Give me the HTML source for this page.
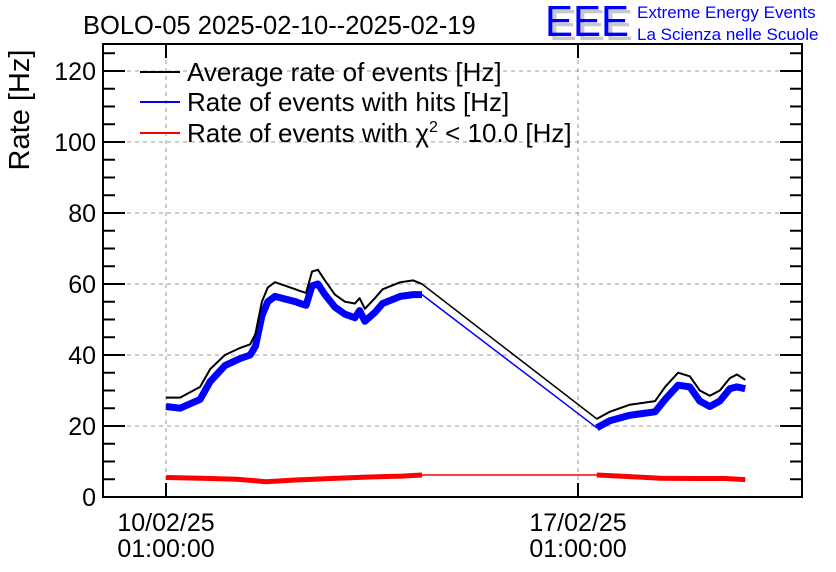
<!DOCTYPE html>
<html><head><meta charset="utf-8"><style>
body{margin:0;background:#fff}
svg{display:block;font-family:"Liberation Sans",sans-serif}
</style></head><body>
<svg id="chart" width="836" height="572" viewBox="0 0 836 572">
<text x="83" y="34" font-size="25.5">BOLO-05 2025-02-10--2025-02-19</text>
<g>
<text x="549" y="40" font-size="44" fill="#c8c8c8" textLength="84" lengthAdjust="spacingAndGlyphs">EEE</text>
<text x="545" y="36" font-size="44" fill="#0000ff" textLength="84" lengthAdjust="spacingAndGlyphs">EEE</text>
<text x="637" y="18" font-size="17" fill="#0000ff">Extreme Energy Events</text>
<text x="637" y="40" font-size="17" fill="#0000ff">La Scienza nelle Scuole</text>
</g>
<g id="grid"></g>
<g id="series"></g>
<rect x="103" y="44" width="699" height="453" fill="none" stroke="#000" stroke-width="2"/>
<g id="axes"></g>
<text transform="translate(29,110) rotate(-90)" font-size="29" text-anchor="middle">Rate [Hz]</text>
<g>
<line x1="140" y1="72" x2="180" y2="72" stroke="#000" stroke-width="2"/>
<text x="187" y="81" font-size="26">Average rate of events [Hz]</text>
<line x1="140" y1="102" x2="180" y2="102" stroke="#0000ff" stroke-width="2"/>
<text x="187" y="111" font-size="26">Rate of events with hits [Hz]</text>
<line x1="140" y1="133" x2="180" y2="133" stroke="#ff0000" stroke-width="2"/>
<text x="187" y="142" font-size="26">Rate of events with χ<tspan font-size="16" dy="-10">2</tspan><tspan dy="10"> &lt; 10.0 [Hz]</tspan></text>
</g>
</svg>
<script>
const yTicks=[0,20,40,60,80,100,120];
const xTickDays=[0,7];
const xTickLabels=[["10/02/25","01:00:00"],["17/02/25","01:00:00"]];
const avgDays=[0,0.24,0.58,0.75,1.0,1.26,1.43,1.52,1.63,1.73,1.85,2.2,2.28,2.38,2.48,2.58,2.7,2.87,3.04,3.21,3.29,3.38,3.55,3.68,3.98,4.2,4.35,7.32,7.54,7.88,8.31,8.48,8.7,8.9,9.07,9.24,9.41,9.58,9.7,9.84];
const avgVals=[28,28,31,36,40,42,43,46,55,59,60.5,58.5,58,57.5,63.5,64,61,57,55,54.5,56,53,56,58.5,60.5,61,60,22,24,26,27,31,35,34,30,28.5,30,33.5,34.5,33];
const hitDays=avgDays;
const hitVals=[25.5,25,27.5,32.5,37,39,40,42.5,51,55,56.5,55,54.5,54,59.5,60,57,53.5,51.5,50.5,52.5,49.5,52,54.5,56.5,57,57,19.5,21.5,23,24,27.5,31.5,31,27,25.5,27,30.5,31,30.5];
const chiDays=[0,0.6,1.2,1.7,2.2,2.8,3.4,4.0,4.35,7.32,7.8,8.4,9.0,9.5,9.84];
const chiVals=[5.5,5.3,5.0,4.3,4.8,5.2,5.6,5.9,6.2,6.2,5.8,5.3,5.2,5.2,4.9];
const NS='http://www.w3.org/2000/svg';
const L=103,R=802,T=44,B=497,YMAX=127.6;
const yS=v=>B-(v/YMAX)*(B-T);
const xS=d=>166+d*58.857;
function mk(tag,attrs,parent){const e=document.createElementNS(NS,tag);for(const k in attrs)e.setAttribute(k,attrs[k]);parent.appendChild(e);return e;}
const grid=document.getElementById('grid'),axes=document.getElementById('axes'),ser=document.getElementById('series');
yTicks.forEach(v=>{
 if(v>0){const g=mk('line',{x1:L,x2:R,y1:yS(v),y2:yS(v),stroke:'#999','stroke-dasharray':'4,4','stroke-width':1},grid);
 
 }
 const t=mk('text',{x:96,y:yS(v)+9,'font-size':25,'text-anchor':'end'},axes);t.textContent=v;
 
 
});
for(let v=0;v<=125;v+=5){const maj=v%20===0;const len=maj?22:12;
 mk('line',{x1:L,x2:L+len,y1:yS(v),y2:yS(v),stroke:'#000','stroke-width':2},axes);
 mk('line',{x1:R,x2:R-len,y1:yS(v),y2:yS(v),stroke:'#000','stroke-width':2},axes);}
xTickDays.forEach((d,i)=>{
 const g=mk('line',{x1:xS(d),x2:xS(d),y1:T,y2:B,stroke:'#999','stroke-dasharray':'4,4','stroke-width':1},grid);
 
 
 mk('line',{x1:xS(d),x2:xS(d),y1:B,y2:B-14,stroke:'#000','stroke-width':2},axes);
 mk('line',{x1:xS(d),x2:xS(d),y1:T,y2:T+14,stroke:'#000','stroke-width':2},axes);
 const t1=mk('text',{x:xS(d),y:531,'font-size':25,'text-anchor':'middle'},axes);t1.textContent=xTickLabels[i][0];
 
 
 const t2=mk('text',{x:xS(d),y:557,'font-size':25,'text-anchor':'middle'},axes);t2.textContent=xTickLabels[i][1];
 
 
});
function poly(pts,color,w,name){
 const e=mk('polyline',{points:pts.join(' '),fill:'none',stroke:color,'stroke-width':w,'stroke-linejoin':'round'},ser);
 
 
}
function line(ds,vs,color,w,name){
 const all=ds.map((d,i)=>xS(d).toFixed(1)+','+yS(vs[i]).toFixed(1));
 poly(all,color,1.5,name+'-gap');
 let seg=[all[0]];
 for(let i=1;i<ds.length;i++){
  if(ds[i]-ds[i-1]>1){poly(seg,color,w,name);seg=[];}
  seg.push(all[i]);
 }
 poly(seg,color,w,name);
}
line(chiDays,chiVals,'#ff0000',5,'chi2-rate-line');
line(hitDays,hitVals,'#0000ff',7,'hits-rate-line');
line(avgDays,avgVals,'#000000',2,'average-rate-line');
</script>
</body></html>
